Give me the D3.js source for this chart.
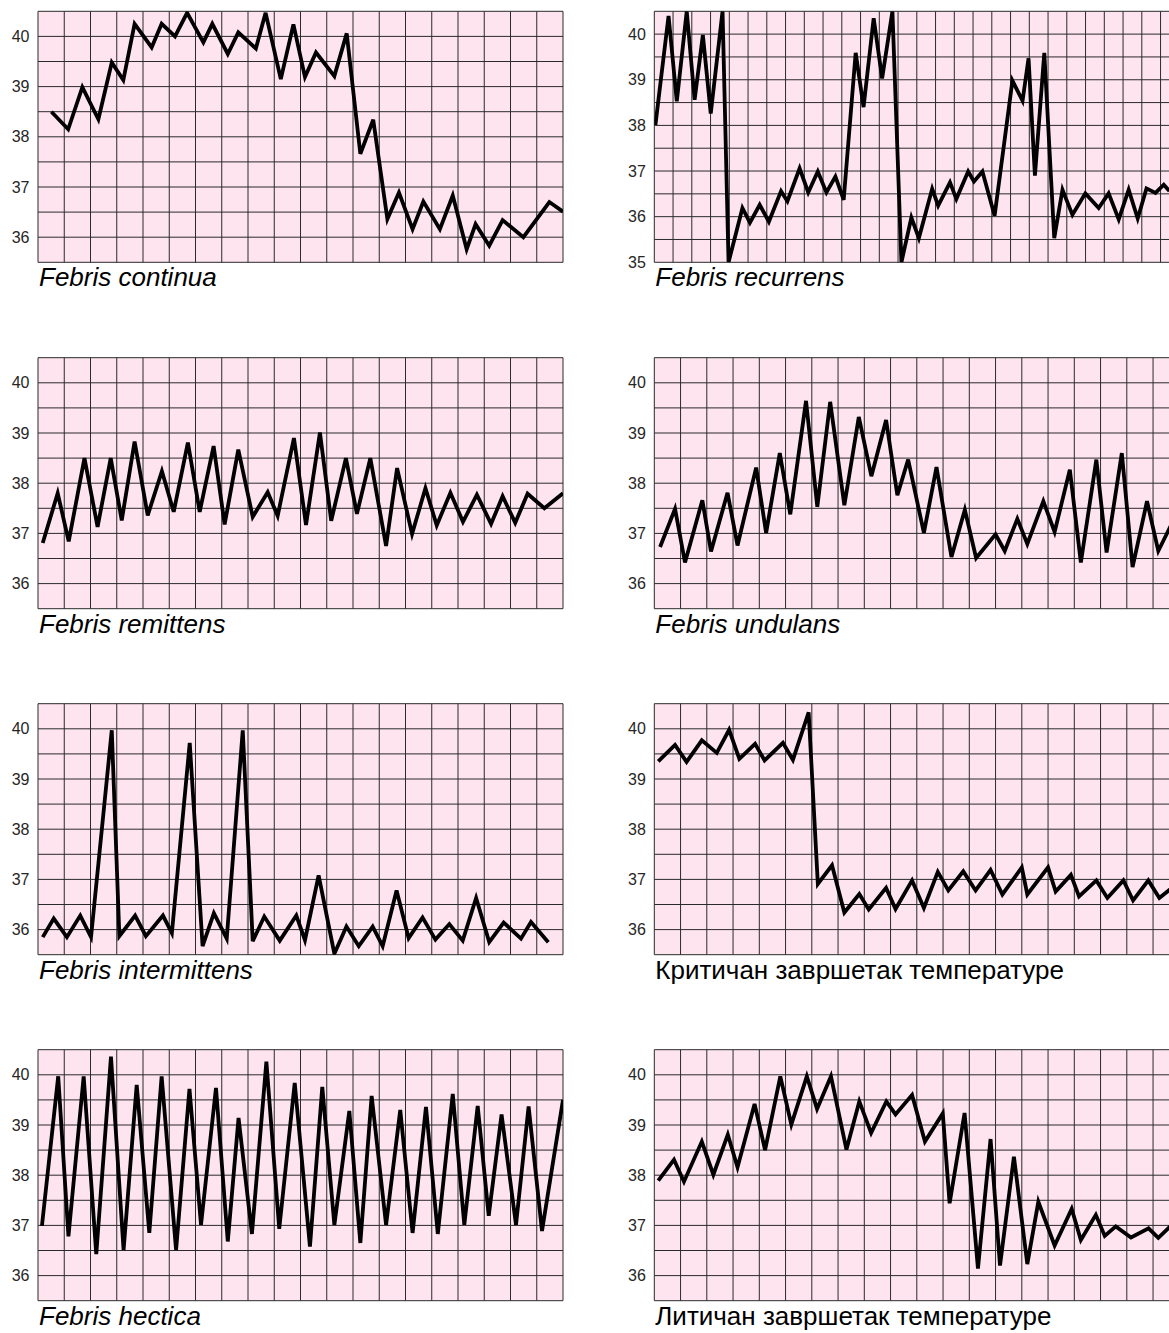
<!DOCTYPE html>
<html>
<head>
<meta charset="utf-8">
<script src="https://cdn.jsdelivr.net/npm/d3@7"></script>
<style>
  html, body { margin: 0; padding: 0; background: #ffffff; overflow: hidden; }
  svg { display: block; }
  .tick text { font-family: "Liberation Sans", Arial, sans-serif; font-size: 16px; fill: #262626; }
  .title { font-family: "Liberation Sans", Arial, sans-serif; font-size: 26px; fill: #000; }
</style>
</head>
<body>
<svg id="chart" width="1169" height="1333"></svg>
<script>
// ---------- DATA (day positions in grid columns, temperatures in °C) ----------
const titles = [
  "Febris continua", "Febris recurrens",
  "Febris remittens", "Febris undulans",
  "Febris intermittens", "Критичан завршетак температуре",
  "Febris hectica", "Литичан завршетак температуре"
];

const ticksStandard = [36, 37, 38, 39, 40];
const ticksRecurrens = [35, 36, 37, 38, 39, 40];

const continuaDays = [0.51, 1.15, 1.69, 2.30, 2.81, 3.25, 3.68, 4.33, 4.71, 5.22, 5.68, 6.30, 6.64, 7.23, 7.63, 8.30, 8.67, 9.25, 9.73, 10.17, 10.59, 11.29, 11.76, 12.28, 12.77, 13.31, 13.75, 14.27, 14.68, 15.31, 15.80, 16.33, 16.67, 17.19, 17.70, 18.49, 19.48, 20.0];
const continuaTemps = [38.5, 38.15, 38.99, 38.35, 39.48, 39.13, 40.25, 39.78, 40.25, 40.0, 40.47, 39.88, 40.25, 39.65, 40.08, 39.76, 40.47, 39.15, 40.24, 39.19, 39.68, 39.21, 40.06, 37.66, 38.34, 36.36, 36.89, 36.16, 36.71, 36.16, 36.83, 35.76, 36.26, 35.83, 36.34, 36.0, 36.7, 36.51];

const recurrensDays = [0.06, 0.76, 1.2, 1.73, 2.15, 2.59, 3.01, 3.64, 3.96, 4.70, 5.10, 5.62, 6.11, 6.76, 7.10, 7.75, 8.21, 8.72, 9.18, 9.66, 10.1, 10.74, 11.16, 11.70, 12.15, 12.70, 13.18, 13.71, 14.11, 14.82, 15.14, 15.77, 16.11, 16.74, 17.05, 17.50, 18.15, 19.10, 19.64, 19.96, 20.30, 20.80, 21.33, 21.77, 22.30, 22.99, 23.70, 24.23, 24.77, 25.30, 25.78, 26.25, 26.73, 27.17, 27.47];
const recurrensTemps = [38.01, 40.40, 38.53, 40.5, 38.56, 39.98, 38.26, 40.5, 35.0, 36.19, 35.87, 36.26, 35.89, 36.56, 36.34, 37.06, 36.53, 36.99, 36.53, 36.88, 36.37, 39.59, 38.40, 40.35, 39.03, 40.5, 35.0, 35.98, 35.53, 36.61, 36.24, 36.75, 36.39, 36.99, 36.77, 36.99, 36.02, 38.98, 38.54, 39.47, 36.90, 39.59, 35.53, 36.59, 36.04, 36.51, 36.19, 36.51, 35.94, 36.59, 35.96, 36.62, 36.52, 36.70, 36.56];

const remittensDays = [0.18, 0.75, 1.17, 1.77, 2.27, 2.77, 3.19, 3.68, 4.18, 4.72, 5.17, 5.71, 6.16, 6.69, 7.11, 7.63, 8.18, 8.75, 9.13, 9.75, 10.21, 10.74, 11.17, 11.73, 12.15, 12.66, 13.26, 13.68, 14.25, 14.76, 15.19, 15.71, 16.19, 16.72, 17.26, 17.70, 18.18, 18.65, 19.29, 20.0];
const remittensTemps = [36.81, 37.80, 36.84, 38.50, 37.13, 38.50, 37.26, 38.83, 37.36, 38.24, 37.43, 38.81, 37.43, 38.74, 37.18, 38.67, 37.33, 37.82, 37.35, 38.90, 37.17, 39.01, 37.25, 38.50, 37.39, 38.50, 36.75, 38.30, 36.99, 37.90, 37.16, 37.81, 37.23, 37.77, 37.19, 37.74, 37.21, 37.79, 37.50, 37.80];

const undulansDays = [0.22, 0.79, 1.17, 1.83, 2.16, 2.79, 3.17, 3.88, 4.26, 4.78, 5.18, 5.78, 6.21, 6.70, 7.24, 7.79, 8.27, 8.83, 9.26, 9.67, 10.27, 10.75, 11.32, 11.83, 12.26, 13.00, 13.35, 13.83, 14.21, 14.82, 15.25, 15.83, 16.25, 16.84, 17.23, 17.81, 18.22, 18.77, 19.20, 20.0];
const undulansTemps = [36.73, 37.49, 36.42, 37.66, 36.64, 37.81, 36.76, 38.31, 37.01, 38.60, 37.38, 39.64, 37.53, 39.62, 37.56, 39.32, 38.14, 39.26, 37.76, 38.47, 37.01, 38.32, 36.53, 37.47, 36.51, 36.98, 36.65, 37.29, 36.79, 37.64, 37.03, 38.27, 36.42, 38.47, 36.62, 38.60, 36.33, 37.64, 36.65, 37.5];

const intermittensDays = [0.18, 0.60, 1.10, 1.61, 2.02, 2.81, 3.10, 3.70, 4.11, 4.76, 5.10, 5.78, 6.27, 6.70, 7.19, 7.80, 8.18, 8.62, 9.21, 9.84, 10.17, 10.69, 11.29, 11.75, 12.22, 12.75, 13.13, 13.66, 14.12, 14.65, 15.14, 15.67, 16.18, 16.69, 17.19, 17.74, 18.40, 18.78, 19.44];
const intermittensTemps = [35.85, 36.22, 35.85, 36.28, 35.85, 39.97, 35.87, 36.28, 35.87, 36.28, 35.93, 39.72, 35.67, 36.33, 35.82, 39.97, 35.77, 36.26, 35.78, 36.28, 35.79, 37.08, 35.52, 36.06, 35.67, 36.06, 35.67, 36.78, 35.83, 36.24, 35.80, 36.11, 35.78, 36.63, 35.75, 36.14, 35.82, 36.15, 35.75];

const criticalDays = [0.15, 0.79, 1.23, 1.81, 2.38, 2.85, 3.24, 3.84, 4.20, 4.90, 5.28, 5.88, 6.23, 6.77, 7.24, 7.81, 8.17, 8.83, 9.19, 9.82, 10.27, 10.80, 11.20, 11.77, 12.24, 12.81, 13.26, 14.00, 14.21, 15.00, 15.29, 15.87, 16.18, 16.84, 17.26, 17.87, 18.24, 18.82, 19.24, 20.0];
const criticalTemps = [39.35, 39.68, 39.34, 39.77, 39.52, 39.98, 39.40, 39.70, 39.37, 39.72, 39.38, 40.33, 36.91, 37.28, 36.34, 36.71, 36.40, 36.83, 36.41, 36.98, 36.43, 37.15, 36.78, 37.16, 36.78, 37.19, 36.70, 37.24, 36.70, 37.24, 36.76, 37.09, 36.66, 36.98, 36.63, 36.98, 36.58, 36.98, 36.63, 36.95];

const hecticaDays = [0.15, 0.77, 1.16, 1.74, 2.22, 2.78, 3.26, 3.76, 4.24, 4.71, 5.26, 5.77, 6.21, 6.78, 7.23, 7.64, 8.15, 8.70, 9.19, 9.78, 10.36, 10.83, 11.29, 11.86, 12.28, 12.71, 13.26, 13.80, 14.27, 14.78, 15.23, 15.80, 16.24, 16.75, 17.17, 17.66, 18.21, 18.69, 19.20, 20.0];
const hecticaTemps = [36.99, 39.97, 36.78, 39.97, 36.43, 40.36, 36.51, 39.80, 36.85, 39.97, 36.51, 39.72, 37.01, 39.74, 36.68, 39.14, 36.83, 40.26, 36.93, 39.84, 36.58, 39.76, 37.01, 39.28, 36.65, 39.58, 37.01, 39.30, 36.85, 39.36, 36.83, 39.62, 37.01, 39.38, 37.19, 39.21, 37.01, 39.37, 36.89, 39.5];

const lyticDays = [0.15, 0.75, 1.13, 1.81, 2.25, 2.80, 3.17, 3.82, 4.22, 4.80, 5.22, 5.81, 6.20, 6.73, 7.32, 7.81, 8.26, 8.84, 9.19, 9.82, 10.31, 10.99, 11.25, 11.82, 12.33, 12.81, 13.17, 13.70, 14.21, 14.63, 15.25, 15.90, 16.25, 16.82, 17.16, 17.58, 18.16, 18.83, 19.20, 20.0];
const lyticTemps = [37.89, 38.31, 37.87, 38.67, 38.01, 38.81, 38.16, 39.42, 38.50, 39.97, 39.01, 39.97, 39.32, 39.97, 38.51, 39.47, 38.84, 39.47, 39.21, 39.60, 38.67, 39.23, 37.44, 39.24, 36.14, 38.72, 36.20, 38.37, 36.23, 37.47, 36.60, 37.33, 36.71, 37.21, 36.79, 36.98, 36.76, 36.94, 36.75, 37.15];

// ---------- PANEL DEFINITIONS ----------
const panels = [
  { title: titles[0], italic: true,  days: continuaDays,     temps: continuaTemps,     cols: 20, yMin: 35.5, yMax: 40.5, ticks: ticksStandard,  c: 0, r: 0 },
  { title: titles[1], italic: true,  days: recurrensDays,    temps: recurrensTemps,    cols: 28, yMin: 35.0, yMax: 40.5, ticks: ticksRecurrens, c: 1, r: 0 },
  { title: titles[2], italic: true,  days: remittensDays,    temps: remittensTemps,    cols: 20, yMin: 35.5, yMax: 40.5, ticks: ticksStandard,  c: 0, r: 1 },
  { title: titles[3], italic: true,  days: undulansDays,     temps: undulansTemps,     cols: 20, yMin: 35.5, yMax: 40.5, ticks: ticksStandard,  c: 1, r: 1 },
  { title: titles[4], italic: true,  days: intermittensDays, temps: intermittensTemps, cols: 20, yMin: 35.5, yMax: 40.5, ticks: ticksStandard,  c: 0, r: 2 },
  { title: titles[5], italic: false, days: criticalDays,     temps: criticalTemps,     cols: 20, yMin: 35.5, yMax: 40.5, ticks: ticksStandard,  c: 1, r: 2 },
  { title: titles[6], italic: true,  days: hecticaDays,      temps: hecticaTemps,      cols: 20, yMin: 35.5, yMax: 40.5, ticks: ticksStandard,  c: 0, r: 3 },
  { title: titles[7], italic: false, days: lyticDays,        temps: lyticTemps,        cols: 20, yMin: 35.5, yMax: 40.5, ticks: ticksStandard,  c: 1, r: 3 }
];

// ---------- LAYOUT ----------
const colX = [38, 654.3];
const rowTop = [11.3, 357.7, 703.7, 1049.7];
const panelW = 525, panelH = 251;
const labelGap = [8.5, 8.5];

const svg = d3.select("#chart");
const defs = svg.append("defs");

panels.forEach((p, i) => {
  const x0 = colX[p.c], y0 = rowTop[p.r];
  const x = d3.scaleLinear().domain([0, p.cols]).range([x0, x0 + panelW]);
  const y = d3.scaleLinear().domain([p.yMin, p.yMax]).range([y0 + panelH, y0]);

  const g = svg.append("g");

  defs.append("clipPath").attr("id", "clip" + i)
    .append("rect").attr("x", x0).attr("y", y0).attr("width", panelW).attr("height", panelH);

  g.append("rect")
    .attr("x", x0).attr("y", y0).attr("width", panelW).attr("height", panelH)
    .attr("fill", "#fee4ef");

  const hVals = d3.range(p.yMin, p.yMax + 0.001, 0.5);
  const vVals = d3.range(0, p.cols + 1);

  g.append("g").selectAll("line").data(hVals).join("line")
    .attr("x1", x0).attr("x2", x0 + panelW)
    .attr("y1", d => y(d)).attr("y2", d => y(d))
    .attr("stroke", "#2a2a2a").attr("stroke-width", 1);

  g.append("g").selectAll("line").data(vVals).join("line")
    .attr("x1", d => x(d)).attr("x2", d => x(d))
    .attr("y1", y0).attr("y2", y0 + panelH)
    .attr("stroke", "#2a2a2a").attr("stroke-width", 1);

  const pts = p.days.map((d, k) => [d, p.temps[k]]);
  const line = d3.line().x(d => x(d[0])).y(d => y(d[1]));
  g.append("path")
    .attr("d", line(pts))
    .attr("fill", "none")
    .attr("stroke", "#000")
    .attr("stroke-width", 3.8)
    .attr("stroke-linejoin", "miter")
    .attr("clip-path", "url(#clip" + i + ")");

  const axis = d3.axisLeft(y).tickValues(p.ticks).tickSize(0).tickPadding(labelGap[p.c]).tickFormat(d3.format("d"));
  const ag = g.append("g").attr("transform", `translate(${x0},0)`).call(axis);
  ag.select(".domain").remove();
  ag.selectAll("text").attr("font-family", null).attr("font-size", null);

  g.append("text")
    .attr("class", "title")
    .attr("x", x0 + 1)
    .attr("y", y0 + panelH + 24)
    .attr("font-style", p.italic ? "italic" : "normal")
    .text(p.title);
});
</script>
</body>
</html>
